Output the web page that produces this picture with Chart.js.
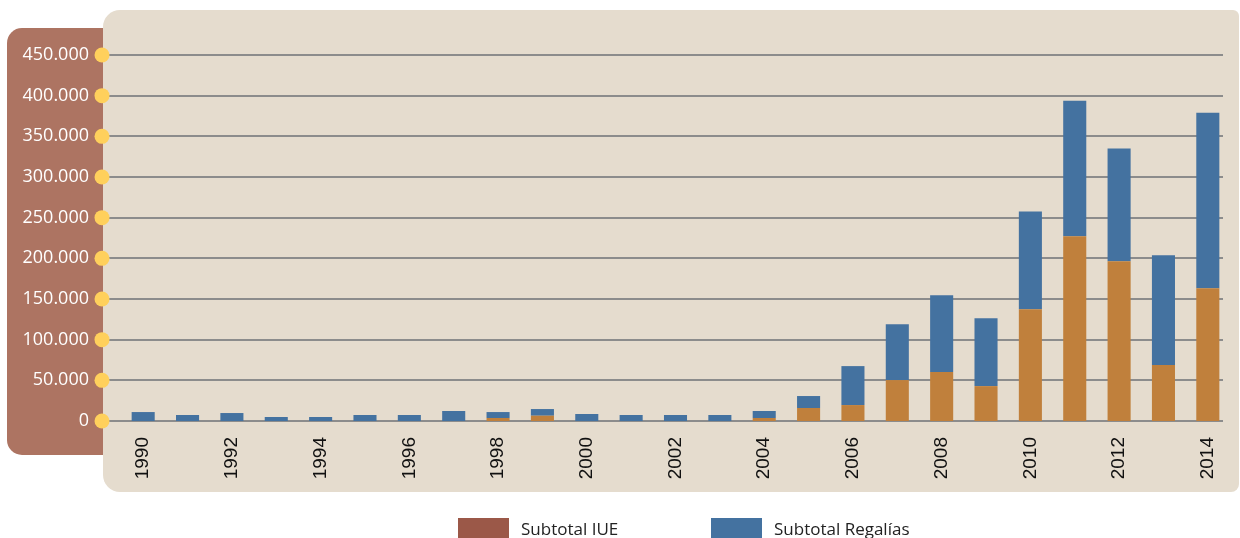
<!DOCTYPE html>
<html lang="es">
<head>
  <meta charset="UTF-8" />
  <title>IUE y Regalías</title>
  <script src="https://cdn.jsdelivr.net/npm/chart.js"></script>
  <style>
    body {
      margin: 0;
      width: 1240px;
      height: 538px;
      overflow: hidden;
      background: #ffffff;
      position: relative;
      font-family: "Open Sans", sans-serif;
    }
    /* side panel behind the y labels */
    .side {
      position: absolute;
      left: 7px;
      top: 28px;
      width: 120px;
      height: 427px;
      background: #ad7462;
      border-radius: 15px;
    }
    /* main beige panel */
    .panel {
      position: absolute;
      left: 103px;
      top: 10px;
      width: 1136px;
      height: 482px;
      background: #e5dcce;
      border-radius: 17px 6px 8px 17px;
    }
    #wrap {
      position: absolute;
      left: 0;
      top: 0;
      width: 1240px;
      height: 538px;
    }
    .legend {
      position: absolute;
      left: 0;
      top: 518px;
      font-size: 17px;
      line-height: 20px;
      color: #222;
    }
    .legend .box {
      position: absolute;
      top: 0;
      width: 51px;
      height: 22px;
    }
    .legend .txt {
      position: absolute;
      top: 1px;
      white-space: nowrap;
    }
  </style>
</head>
<body>
  <div class="side"></div>
  <div class="panel"></div>
  <div id="wrap"><canvas id="chart" width="1240" height="538"></canvas></div>
  <div class="legend">
    <div class="box" style="left:458px;background:#9b5848"></div>
    <div class="txt" style="left:521px">Subtotal IUE</div>
    <div class="box" style="left:711px;background:#4472a0"></div>
    <div class="txt" style="left:774px">Subtotal Regalías</div>
  </div>

  <script>
    const years = [1990, 1991, 1992, 1993, 1994, 1995, 1996, 1997, 1998, 1999, 2000, 2001, 2002,
                   2003, 2004, 2005, 2006, 2007, 2008, 2009, 2010, 2011, 2012, 2013, 2014];
    const iue = [0, 0, 0, 0, 0, 0, 0, 0, 3700, 6500, 0, 0, 0,
                 0, 3700, 16000, 19600, 50300, 60100, 42900, 137400, 227000, 196300, 68700, 163200];
    const regalias = [11000, 7400, 9800, 4900, 4900, 7400, 7400, 12300, 7300, 8200, 8600, 7400, 7400,
                      7400, 8600, 14700, 47900, 68700, 94500, 83500, 120300, 166900, 138700, 135000, 215900];
    const yTicks = [0, 50000, 100000, 150000, 200000, 250000, 300000, 350000, 400000, 450000];

    function fmt(v) {
      return v.toString().replace(/\B(?=(\d{3})+(?!\d))/g, '.');
    }

    // gridlines start at the panel edge, yellow dots on the axis
    const gridDots = {
      id: 'gridDots',
      beforeDatasetsDraw(chart) {
        const ctx = chart.ctx, y = chart.scales.y;
        ctx.save();
        ctx.strokeStyle = '#8c8c8c';
        ctx.lineWidth = 2;
        yTicks.forEach(t => {
          const py = Math.round(y.getPixelForValue(t));
          ctx.beginPath();
          ctx.moveTo(103, py);
          ctx.lineTo(1223, py);
          ctx.stroke();
        });
        ctx.restore();
      },
      afterDraw(chart) {
        const ctx = chart.ctx, y = chart.scales.y;
        ctx.save();
        ctx.fillStyle = '#ffd05c';
        yTicks.forEach(t => {
          ctx.beginPath();
          ctx.arc(102, y.getPixelForValue(t), 7.5, 0, Math.PI * 2);
          ctx.fill();
        });
        ctx.restore();
      }
    };

    new Chart(document.getElementById('chart'), {
      type: 'bar',
      data: {
        labels: years,
        datasets: [
          { label: 'Subtotal IUE', data: iue, backgroundColor: '#c0803c' },
          { label: 'Subtotal Regalías', data: regalias, backgroundColor: '#4472a0' }
        ]
      },
      options: {
        responsive: false,
        animation: false,
        categoryPercentage: 1,
        barPercentage: 0.52,
        layout: { padding: { top: 55, right: 10, bottom: 0, left: 0 } },
        scales: {
          x: {
            stacked: true,
            grid: { display: false, drawTicks: false },
            border: { display: false },
            ticks: {
              autoSkip: false,
              minRotation: 90,
              maxRotation: 90,
              padding: 16,
              color: '#111',
              font: { family: '"Liberation Sans", Arial, sans-serif', size: 19 },
              callback: function (v, i) {
                return years[i] % 2 === 0 ? String(years[i]) : '';
              }
            },
            afterFit(scale) {
              scale.height = 117;
              scale.paddingLeft = 0;
              scale.paddingRight = 0;
            }
          },
          y: {
            stacked: true,
            min: 0,
            max: 450000,
            grid: { display: false, drawTicks: false },
            border: { display: false },
            afterBuildTicks(scale) { scale.ticks = yTicks.map(v => ({ value: v })); },
            ticks: {
              padding: 32,
              color: '#ffffff',
              font: { family: '"Open Sans", sans-serif', size: 18 },
              callback: v => fmt(v)
            },
            afterFit(scale) { scale.width = 121; }
          }
        },
        plugins: {
          legend: { display: false },
          tooltip: { enabled: false }
        }
      },
      plugins: [gridDots]
    });
  </script>
</body>
</html>
